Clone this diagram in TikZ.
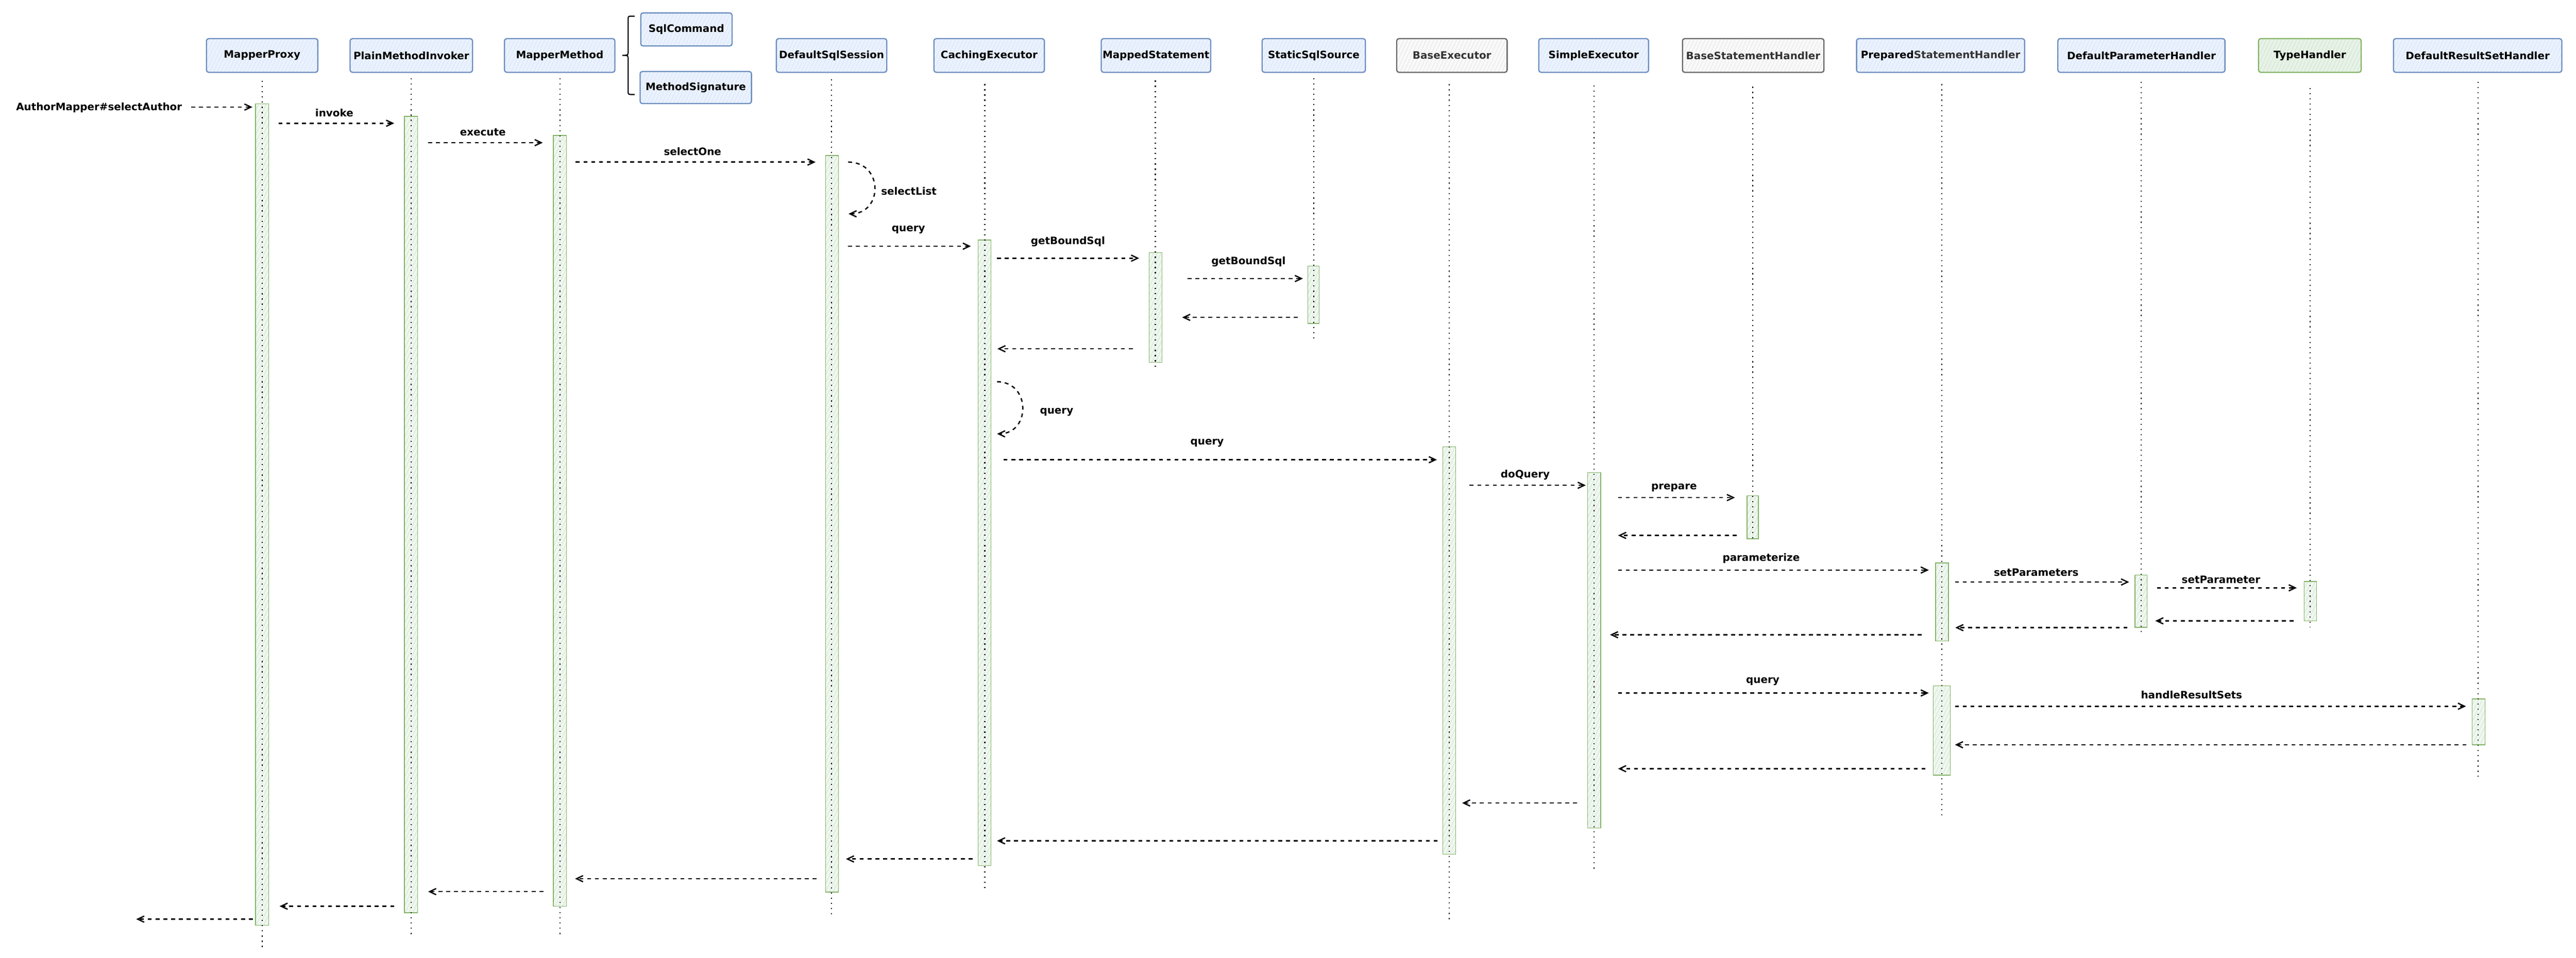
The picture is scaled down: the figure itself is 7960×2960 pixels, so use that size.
\documentclass[tikz,border=0pt]{standalone}
\usepackage{fontspec}
\setmainfont{DejaVu Sans}
\usetikzlibrary{arrows.meta,patterns.meta}
\definecolor{bstroke}{HTML}{6C8EBF}
\definecolor{bfill}{HTML}{DAE8FC}
\definecolor{gstroke}{HTML}{666666}
\definecolor{gfill}{HTML}{F5F5F5}
\definecolor{grstroke}{HTML}{82B366}
\definecolor{grfill}{HTML}{D5E8D4}
\definecolor{gtext}{HTML}{333333}
\newcommand\lifeline[4]{%
  \coordinate (#1t) at (#2,#3);
  \coordinate (#1b) at (#2,#4);
  \draw[life] (#1t) -- (#1b);}
\newcommand\actbar[5]{%
  \node[actbox, minimum width=#5*0.01cm, minimum height={(#4-#3)*0.01cm}] (#1) at (#2,{(#3+#4)/2}) {};}
\newcommand\msgline[4]{%
  \coordinate (#1s) at (#2,#4);
  \coordinate (#1e) at (#3,#4);
  \draw[msg] (#1s) -- (#1e);}
\begin{document}
\begin{tikzpicture}[x=0.01cm,y=-0.01cm,
  txt/.style={font={\fontsize{9pt}{10.5pt}\selectfont\bfseries}, inner sep=0pt},
  hdr/.style={txt, rounded corners=0.07cm, line width=1.05pt, minimum height=1.04cm},
  bluebox/.style={hdr, draw=bstroke, preaction={fill=bfill!55},
    pattern={Lines[angle=65,distance=3pt,line width=0.6pt]}, pattern color=bfill},
  graybox/.style={hdr, draw=gstroke, text=gtext, preaction={fill=gfill!60},
    pattern={Lines[angle=65,distance=3pt,line width=0.6pt]}, pattern color=gfill!80!gray!60},
  greenbox/.style={hdr, draw=grstroke, preaction={fill=grfill!55},
    pattern={Lines[angle=65,distance=3pt,line width=0.6pt]}, pattern color=grfill},
  actbox/.style={draw=grstroke, line width=0.65pt, inner sep=0pt, preaction={fill=grfill!35},
    pattern={Lines[angle=65,distance=3pt,line width=0.5pt]}, pattern color=grfill},
  life/.style={line width=0.035cm, dash pattern=on 0.035cm off 0.125cm},
  msg/.style={line width=0.04cm, dash pattern=on 0.12cm off 0.12cm,
    -{Straight Barb[length=0.2cm,width=0.19cm]}},
  lbl/.style={txt}
]
\fill[white] (0,0) rectangle (7960,2960);
\useasboundingbox (0,0) rectangle (7960,2960);

% header boxes
\node[bluebox, minimum width=3.44cm] (mp) at (810,171.5) {MapperProxy};
\node[bluebox, minimum width=3.78cm] (pmi) at (1271,171.5) {PlainMethodInvoker};
\node[bluebox, minimum width=3.41cm] (mm) at (1729.5,171.5) {MapperMethod};
\node[bluebox, minimum width=2.82cm, minimum height=1.02cm] (sc) at (2121,91) {SqlCommand};
\node[bluebox, minimum width=3.44cm, minimum height=0.99cm] (msig) at (2150,270.5) {MethodSignature};
\node[bluebox, minimum width=3.41cm] (dss) at (2569.5,171.5) {DefaultSqlSession};
\node[bluebox, minimum width=3.41cm] (ce) at (3056.5,171.5) {CachingExecutor};
\node[bluebox, minimum width=3.38cm] (ms) at (3572,171.5) {MappedStatement};
\node[bluebox, minimum width=3.19cm] (sss) at (4059.5,171.5) {StaticSqlSource};
\node[graybox, minimum width=3.41cm] (be) at (4486.5,171.5) {BaseExecutor};
\node[bluebox, minimum width=3.39cm] (se) at (4924.5,171.5) {SimpleExecutor};
\node[graybox, minimum width=4.37cm] (bsh) at (5417.5,171.5) {BaseStatementHandler};
\node[bluebox, minimum width=5.19cm] (psh) at (5996.5,171.5) {Prepared\textcolor{gtext}{StatementHandler}};
\node[bluebox, minimum width=5.16cm] (dph) at (6617,171.5) {DefaultParameterHandler};
\node[greenbox, minimum width=3.17cm] (th) at (7137.5,171.5) {TypeHandler};
\node[bluebox, minimum width=5.20cm] (drsh) at (7656,171.5) {DefaultResultSetHandler};

% brace
\draw[line width=1pt] (1961,50) -- (1952,50) .. controls (1941,50) .. (1941,62) -- (1941,158)
  .. controls (1941,171) .. (1923,171) .. controls (1941,171) .. (1941,184) -- (1941,280)
  .. controls (1941,292) .. (1952,292) -- (1961,292);

% activation bars
\actbar{mpbar}{810}{321}{2860}{41}
\actbar{pmibar}{1270}{360}{2821}{41}
\actbar{mmbar}{1730}{419}{2801}{41}
\actbar{dssbar}{2571}{481}{2757}{40}
\actbar{cebar}{3042}{742}{2675}{40}
\actbar{msbar}{3571}{781}{1120}{40}
\actbar{sssbar}{4059}{822}{1000}{35}
\actbar{bebar}{4478}{1381}{2640}{40}
\actbar{sebar}{4926}{1461}{2559}{41}
\actbar{bshbar}{5416}{1532}{1665}{35}
\actbar{pshbarA}{6001}{1740}{1981}{40}
\actbar{pshbarB}{6000}{2120}{2396}{52}
\actbar{dphbar}{6616}{1777}{1939}{38}
\actbar{thbar}{7139}{1797}{1919}{38}
\actbar{drshbar}{7659}{2160}{2302}{40}

% lifelines
\lifeline{mpl}{810}{250}{2937}
\lifeline{pmil}{1270}{242}{2897}
\lifeline{mml}{1730}{242}{2897}
\lifeline{dssl}{2570}{245}{2833}
\lifeline{cel}{3043}{260}{2757}
\lifeline{msl}{3570}{249}{1140}
\lifeline{sssl}{4059}{242}{1056}
\lifeline{bel}{4478}{260}{2843}
\lifeline{sel}{4925}{264}{2690}
\lifeline{bshl}{5416}{268}{1675}
\lifeline{pshl}{6000}{260}{2523}
\lifeline{dphl}{6616}{253}{1954}
\lifeline{thl}{7139}{272}{1939}
\lifeline{drshl}{7658}{253}{2400}

% messages
\node[lbl] (entry) at (306,333) {AuthorMapper\#selectAuthor};
\msgline{m1}{591}{780}{331}
\msgline{m2}{861}{1218}{381}
\node[lbl] (l2) at (1033,348) {invoke};
\msgline{m3}{1323}{1677}{441}
\node[lbl] (l3) at (1492,409) {execute};
\msgline{m4}{1779}{2520}{501}
\node[lbl] (l4) at (2140,468) {selectOne};
\coordinate (m5s) at (2621,501);
\coordinate (m5e) at (2622,661);
\draw[msg] (m5s) .. controls (2730,501) and (2730,661) .. (m5e);
\node[lbl, anchor=west] (l5) at (2722,591) {selectList};
\msgline{m6}{2621}{3000}{761}
\node[lbl] (l6) at (2807,710) {query};
\msgline{m7}{3081}{3520}{798}
\node[lbl] (l7) at (3300,746) {getBoundSql};
\msgline{m8}{3670}{4026}{861}
\node[lbl] (l8) at (3858,809) {getBoundSql};
\msgline{r9}{4010}{3653}{981}
\msgline{r10}{3500}{3082}{1078}
\coordinate (m11s) at (3081,1180);
\coordinate (m11e) at (3081,1341);
\draw[msg] (m11s) .. controls (3186,1180) and (3186,1341) .. (m11e);
\node[lbl] (l11) at (3265,1273) {query};
\msgline{m12}{3101}{4440}{1421}
\node[lbl] (l12) at (3730,1370) {query};
\msgline{m13}{4541}{4900}{1500}
\node[lbl] (l13) at (4713,1468) {doQuery};
\msgline{m14}{5000}{5361}{1538}
\node[lbl] (l14) at (5173,1508) {prepare};
\msgline{r15}{5366}{5000}{1655}
\msgline{m16}{5000}{5960}{1762}
\node[lbl] (l16) at (5442,1726) {parameterize};
\msgline{m17}{6041}{6579}{1799}
\node[lbl] (l17) at (6292,1769) {setParameters};
\msgline{m18}{6665}{7097}{1817}
\node[lbl] (l18) at (6863,1792) {setParameter};
\msgline{r19}{7087}{6660}{1919}
\msgline{r20}{6574}{6042}{1940}
\msgline{r21}{5938}{4975}{1962}
\msgline{m22}{5000}{5960}{2142}
\node[lbl] (l22) at (5447,2107) {query};
\msgline{m23}{6041}{7620}{2183}
\node[lbl] (l23) at (6772,2147) {handleResultSets};
\msgline{r24}{7621}{6041}{2302}
\msgline{r25}{5950}{5000}{2376}
\msgline{r26}{4873}{4518}{2482}
\msgline{r27}{4442}{3081}{2599}
\msgline{r28}{3005}{2614}{2655}
\msgline{r29}{2523}{1777}{2716}
\msgline{r30}{1679}{1323}{2756}
\msgline{r31}{1218}{864}{2801}
\msgline{r32}{781}{421}{2841}
\end{tikzpicture}
\end{document}
